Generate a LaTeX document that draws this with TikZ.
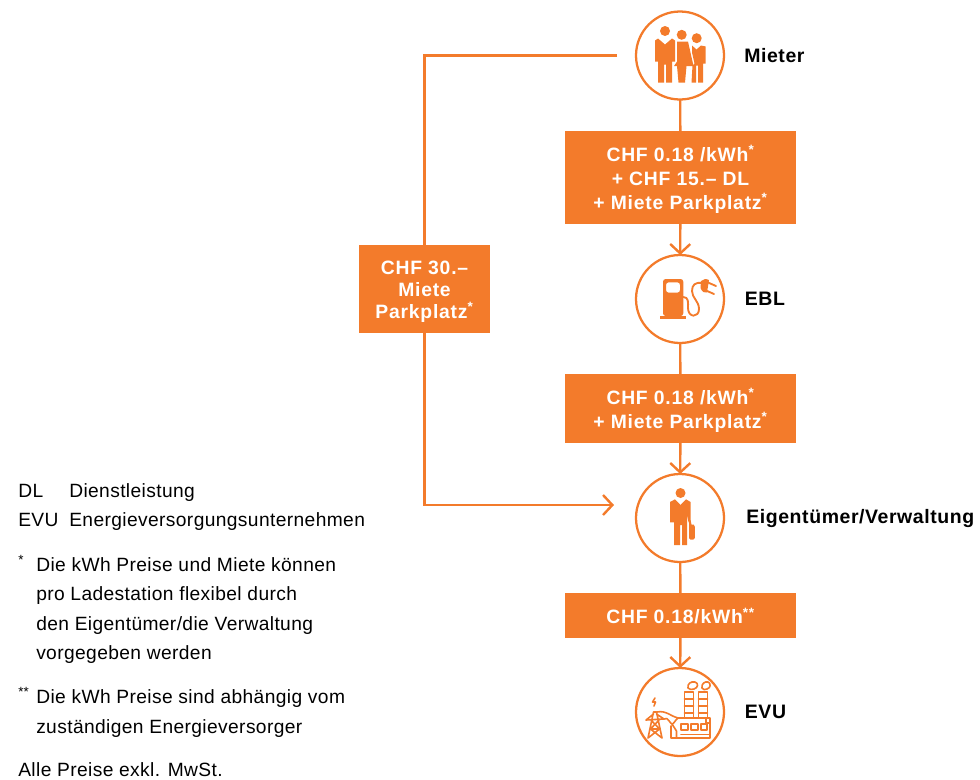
\documentclass[tikz,border=0pt]{standalone}
\usepackage{fontspec}
\setmainfont{Liberation Sans}
\usetikzlibrary{positioning}
\usetikzlibrary{arrows.meta}
\definecolor{ebl}{HTML}{F37B2B}
\newcommand{\stern}{\textsuperscript{*}}
\tikzset{
	conn/.style={draw=ebl,line width=1.8pt},
	arr/.style={conn,-{Straight Barb[length=7pt,width=15pt,line width=1.8pt]}},
	rolle/.style={circle,draw=ebl,line width=1.7pt,minimum size=66pt,inner sep=0pt,outer sep=0pt},
	preis/.style={fill=ebl,text=white,font=\fontsize{14.5}{18}\selectfont\bfseries\addfontfeature{LetterSpace=4},align=center,inner sep=0pt,outer sep=0pt,minimum width=173.5pt},
	rollentxt/.style={font=\fontsize{14.6}{17}\selectfont\bfseries\addfontfeature{LetterSpace=3},inner sep=0pt},
	legende/.style={font=\fontsize{14.4}{17}\selectfont\addfontfeature{LetterSpace=2},anchor=base west,inner sep=0pt},
	icon/.style={fill=ebl,draw=none},
	iconline/.style={draw=ebl,line width=1.2pt,line cap=round,line join=round},
}
\begin{document}
\begin{tikzpicture}[x=0.75pt,y=-0.75pt]
	\useasboundingbox (0,0) rectangle (980,779);
	% rollen
	\node[rolle] (mieter) at (680,55.5) {};
	\node[rolle] (tanke) at (680,299) {};
	\node[rolle] (eigen) at (680,518) {};
	\node[rolle] (werk) at (680,712) {};
	\node[rollentxt,right=15pt of mieter] (mietertxt) {Mieter};
	\node[rollentxt,right=15.5pt of tanke] (tanketxt) {EBL};
	\node[rollentxt,right=16.5pt of eigen] (eigentxt) {Eigentümer/Verwaltung};
	\node[rollentxt,right=15.5pt of werk] (werktxt) {EVU};
	% preise
	\node[preis,minimum height=69.75pt] (preisa) at (680.5,177.5) {\rule{0pt}{15pt}CHF 0.18 /kWh\stern\\+ CHF 15.– DL\\+ Miete Parkplatz\stern};
	\node[preis,minimum height=51.75pt] (preisb) at (680.5,408.5) {\rule{0pt}{15pt}CHF 0.18 /kWh\stern\\+ Miete Parkplatz\stern};
	\node[preis,minimum height=33.75pt] (preisc) at (680.5,615.5) {\rule{0pt}{13pt}CHF 0.18/kWh\textsuperscript{**}};
	\node[preis,minimum width=98.25pt,minimum height=66pt] (miete) at (424.5,289) {\rule{0pt}{13.5pt}CHF 30.–\\[-1.5pt]Miete\\[-1.5pt]Parkplatz\stern};
	% verbindungen
	\coordinate (mieterab) at (617,55.5);
	\coordinate (eigenan) at (614,505);
	\draw[conn] (mieter) -- (preisa);
	\draw[arr] (preisa) -- (tanke);
	\draw[conn] (tanke) -- (preisb);
	\draw[arr] (preisb) -- (eigen);
	\draw[conn] (eigen) -- (preisc);
	\draw[arr] (preisc) -- (werk);
	\draw[conn] (mieterab) -| (miete);
	\draw[arr] (miete) |- (eigenan);
	% icon mieter
	\begin{scope}[shift={(mieter.center)}]
		\fill[icon] (-15,-24.5) circle(5) (1.7,-20.7) circle(5) (16.7,-17.3) circle(5);
		\fill[icon] (-25,-15) -- (-22,-17) -- (-15,-11) -- (-8,-17) -- (-5,-15) -- (-5,-14) -- (-5,6) -- (-8,6) -- (-8,27) -- (-14,27) -- (-14,9) -- (-16,9) -- (-16,27) -- (-22,27) -- (-22,6) -- (-25,6) -- cycle;
		\fill[icon] (-3,-14) -- (8,-14) -- (13.5,10.5) -- (6.5,10.5) -- (5,27) -- (-1.5,27) -- (-3,10.5) -- (-6,10.5) -- (-3,6) -- cycle;
		\fill[icon] (12,-10) -- (16.5,-6) -- (21,-10) -- (25.7,-9) -- (25.7,8) -- (23,8) -- (23,27) -- (18,27) -- (18,10) -- (16,10) -- (16,27) -- (11.5,27) -- (12.5,10) -- (14.5,8) -- (12,-3) -- cycle;
	\end{scope}
	% icon tankstelle
	\begin{scope}[shift={(tanke.center)}]
		\fill[icon,even odd rule,rounded corners=2pt] (-17,17) -- (-17,-20) -- (3.3,-20) -- (3.3,17) -- cycle (-14,-16.7) rectangle (0,-6.3);
		\fill[icon] (-20,17) rectangle (6,20);
		\draw[iconline,line width=1.4pt] (3.3,-2) .. controls (9,-2) and (8,4) .. (8,9) .. controls (8,19) and (19,19) .. (19,10) .. controls (19,2) and (12,-1) .. (12,-8) .. controls (12,-14) and (15,-17) .. (22,-16);
		\fill[icon] (21,-18) .. controls (23,-20) and (26,-20.5) .. (29,-19) -- (27,-6.5) .. controls (25,-5.5) and (22,-7) .. (20.5,-11) -- cycle;
		\draw[iconline,line width=1.4pt] (28,-16.5) -- (36,-13) (26,-8.5) -- (34,-5);
	\end{scope}
	% icon eigentuemer
	\begin{scope}[shift={(eigen.center)}]
		\fill[icon] (0.5,-25) circle(5);
		\fill[icon] (-10,-16) -- (-5,-18.7) -- (0.5,-13) -- (6,-18.7) -- (10.6,-16) -- (10.6,4.3) -- (8.5,4.3) -- (7,-4) -- (7,27) -- (2,27) -- (2,7) -- (0,7) -- (0,27) -- (-6,27) -- (-6,4.3) -- (-10,4.3) -- cycle;
		\fill[icon] (9,6.5) -- (9,2) -- (10.5,2) -- (11.5,6.5) -- (13.5,6.5) [rounded corners=1pt] -- (14.8,7.5) -- (14.8,21.5) -- (9,21.5) -- cycle;
	\end{scope}
	% icon kraftwerk
	\begin{scope}[shift={(werk.center)}]
		\draw[iconline] (-26.5,0) -- (-23.5,0) (-26.5,0) -- (-32,26) (-23.5,0) -- (-18,26) (-34,8) -- (-26.5,2) (-16,7) -- (-23.5,2) (-34,8) -- (-16,7) (-29,8) -- (-20.5,17) -- (-32,26) (-21,8) -- (-29.5,17) -- (-18,26) (-29.5,17) -- (-20.5,17);
		\draw[iconline] (-25,-14) -- (-27.5,-10) -- (-24.5,-10) -- (-26,-6);
		\draw[iconline] (-16,7) .. controls (-12,4) and (-10,12) .. (-8,12) .. controls (-6,12) and (-5,8) .. (-2,6) (-23,0) .. controls (-14,-2) and (-8,5) .. (-2,6);
		\foreach \x in {4.5,18.5} {
			\draw[iconline] (\x,6) -- (\x,-20) -- (\x+9,-20) -- (\x+9,6);
			\foreach \y in {-13,-6,1} {
				\draw[iconline] (\x,\y) -- (\x+9,\y);
			}
		}
		\draw[iconline] (-2,6) -- (30,6) -- (30,26) -- (-9,26) -- (-9,14) (-3.5,19) -- (-3.5,26) (-8,12) -- (-3.5,19) (26,6) -- (26,11) -- (30,11);
		\draw[iconline] (1,12) rectangle (8,18) (11,12) rectangle (18,18) (21,12) rectangle (27,18);
		\draw[iconline] (1,22.5) -- (30,22.5);
		\draw[iconline] (8,-24) .. controls (7,-28) and (11,-31) .. (15,-30) .. controls (19,-29) and (18,-24) .. (14,-23) .. controls (12,-22.5) and (9,-22) .. (8,-24) -- cycle;
		\draw[iconline] (22,-24) .. controls (21,-28) and (25,-31) .. (28,-30) .. controls (31,-29) and (31,-24) .. (27,-23) .. controls (25,-22) and (23,-22) .. (22,-24) -- cycle;
	\end{scope}
	% legende
	\node[legende] (kurza) at (18,497) {DL};
	\node[legende] (langa) at (69,497) {Dienstleistung};
	\node[legende] (kurzb) at (18,526) {EVU};
	\node[legende] (langb) at (69,526) {Energieversorgungsunternehmen};
	\node[legende] (sterna) at (18,571) {\stern};
	\node[legende] (texta) at (36,571) {Die kWh Preise und Miete können};
	\node[legende] (textb) at (36,600) {pro Ladestation flexibel durch};
	\node[legende] (textc) at (36,630) {den Eigentümer/die Verwaltung};
	\node[legende] (textd) at (36,659) {vorgegeben werden};
	\node[legende] (sternb) at (18,703) {\textsuperscript{**}};
	\node[legende] (texte) at (36,703) {Die kWh Preise sind abhängig vom};
	\node[legende] (textf) at (36,733) {zuständigen Energieversorger};
	\node[legende] (textg) at (18,776) {Alle Preise exkl. MwSt.};
\end{tikzpicture}
\end{document}
